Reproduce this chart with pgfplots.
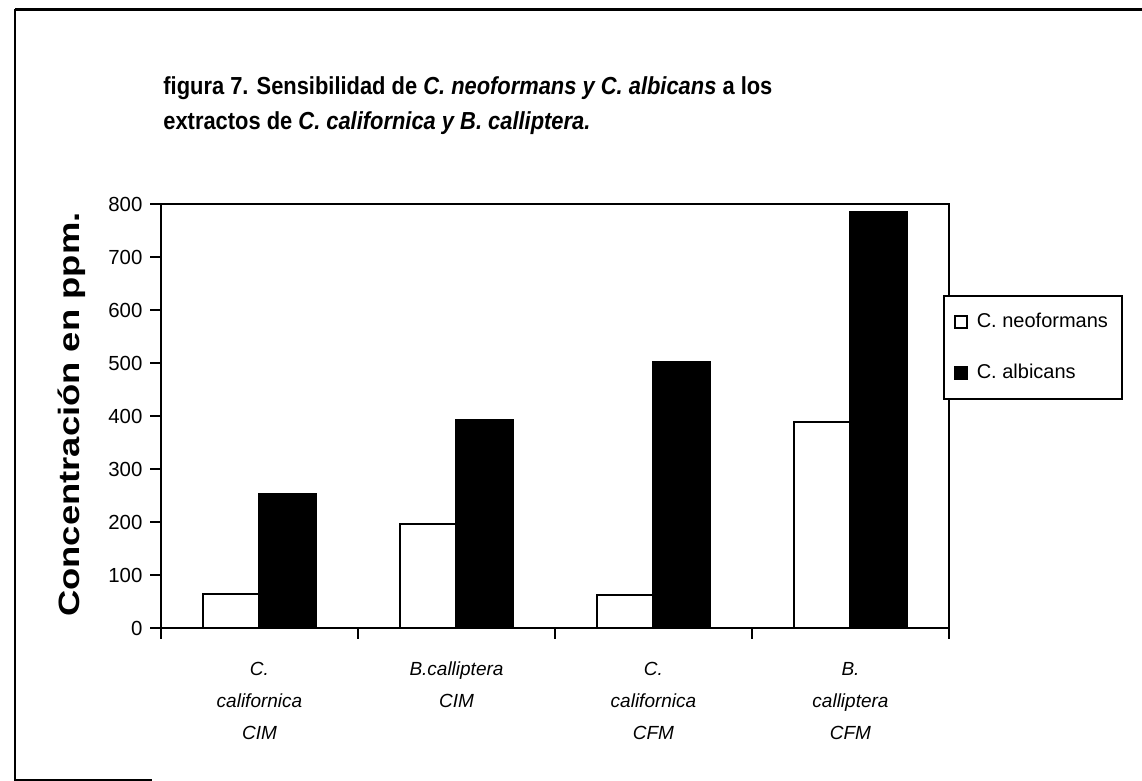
\documentclass[border=0pt]{standalone}
\usepackage{fontspec}
\setmainfont{Liberation Sans}
\usepackage{pgfplots}
\pgfplotsset{compat=1.18}
\begin{document}
\begin{tikzpicture}
\path[use as bounding box] (0,0) rectangle (571pt,390.5pt);
% outer frame (partial, as in the scan)
\draw[line width=1.5pt] (7.5pt,385.5pt) -- (571pt,385.5pt);
\draw[line width=1.1pt] (7.5pt,386pt) -- (7.5pt,0.5pt) -- (76pt,0.5pt);
% title
\node[anchor=base west, inner sep=0pt, font=\bfseries\fontsize{11}{13}\selectfont] at (81.5pt,343pt)
  {\scalebox{0.995}[1.12]{figura 7. Sensibilidad de \textit{C. neoformans y C. albicans} a los}};
\node[anchor=base west, inner sep=0pt, font=\bfseries\fontsize{11}{13}\selectfont] at (81.5pt,325.5pt)
  {\scalebox{0.995}[1.12]{extractos de \textit{C. californica y B. calliptera.}}};
\begin{axis}[
  at={(80.5pt,76.5pt)}, anchor=south west,
  scale only axis, width=394pt, height=212pt,
  xmin=-0.5, xmax=3.5, ymin=0, ymax=800,
  ytick={0,100,...,800},
  xtick={-0.5,0.5,1.5,2.5,3.5},
  x tick label as interval,
  xticklabels={{C.\\californica\\CIM},{B.calliptera\\CIM},{C.\\californica\\CFM},{B.\\calliptera\\CFM}},
  xticklabel style={font=\itshape\fontsize{9.5}{16}\selectfont, align=center, yshift=-8pt},
  yticklabel style={font=\fontsize{10.2}{12}\selectfont, xshift=-3pt},
  /pgf/number format/assume math mode=true,
  xtick pos=bottom, ytick pos=left,
  tick align=center, major tick length=5.5pt,
  ytick style={xshift=-2.75pt},
  tick style={line width=0.8pt, black},
  axis line style={line width=1pt},
  ybar=0pt, bar width=28.25pt,
  every axis y label/.style={at={(axis description cs:-0.113,0.503)}, rotate=90, anchor=center},
  ylabel={\scalebox{1.3}[1.05]{\bfseries\fontsize{14}{16}\selectfont Concentración en ppm.}},
  legend style={at={(axis description cs:0.9924,0.785)}, anchor=north west,
    draw=black, line width=0.8pt, font=\fontsize{10}{12}\selectfont,
    row sep=13pt, inner xsep=5pt, inner ysep=6.5pt,
    /tikz/every odd column/.append style={column sep=2.5pt}},
  legend cell align=left,
]
\addplot[draw=black, line width=1pt, fill=white,
  legend image code/.code={\draw[draw=black, line width=1pt, fill=white] (0pt,-3pt) rectangle (6pt,3pt);}]
  coordinates {(0,65) (1,197) (2,62) (3,388)};
\addplot[draw=black, line width=1pt, fill=black,
  legend image code/.code={\draw[draw=black, line width=1pt, fill=black] (0pt,-3pt) rectangle (6pt,3pt);}]
  coordinates {(0,252) (1,393) (2,502) (3,785)};
\legend{C. neoformans, C. albicans}
\end{axis}
\end{tikzpicture}
\end{document}
